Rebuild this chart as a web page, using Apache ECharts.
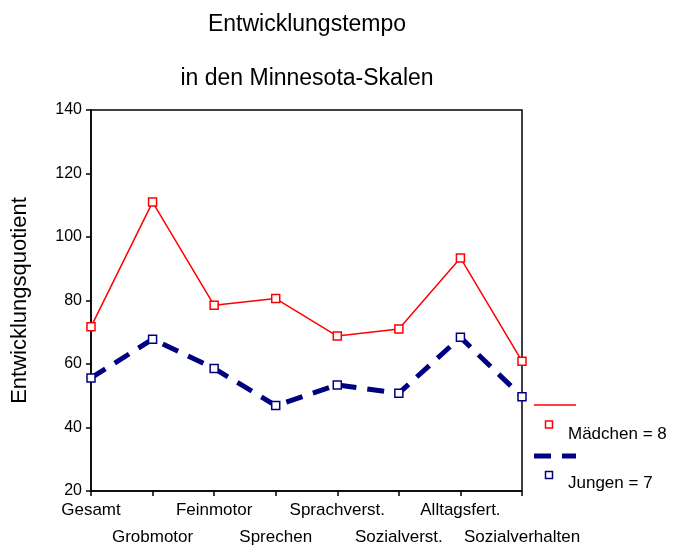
<!DOCTYPE html>
<html>
<head>
<meta charset="utf-8">
<script src="https://cdn.jsdelivr.net/npm/echarts@6/dist/echarts.min.js"></script>
<style>
  html, body { margin: 0; padding: 0; background: #fff; }
  #main { width: 675px; height: 547px; }
</style>
</head>
<body>
<div id="main"></div>
<script>
// Kategorien (Minnesota-Skalen)
var categories = ['Gesamt', 'Grobmotor', 'Feinmotor', 'Sprechen', 'Sprachverst.', 'Sozialverst.', 'Alltagsfert.', 'Sozialverhalten'];
// Entwicklungsquotient je Gruppe
var maedchen = [71.7, 111.0, 78.5, 80.6, 68.8, 71.0, 93.4, 60.9];
var jungen = [55.6, 67.8, 58.6, 46.9, 53.4, 50.8, 68.4, 49.7];
var yTicks = [20, 40, 60, 80, 100, 120, 140];

var font = '"Liberation Sans", Arial, sans-serif';
var chart = echarts.init(document.getElementById('main'), null, { renderer: 'canvas' });

var option = {
  backgroundColor: '#fff',
  animation: false,
  title: [
    { text: 'Entwicklungstempo', left: 307, top: 13, padding: 0, textAlign: 'center',
      textStyle: { fontFamily: font, fontSize: 23, fontWeight: 'normal', color: '#000' } },
    { text: 'in den Minnesota-Skalen', left: 307, top: 67, padding: 0, textAlign: 'center',
      textStyle: { fontFamily: font, fontSize: 23, fontWeight: 'normal', color: '#000' } }
  ],
  grid: {
    left: 91, right: 153, top: 110, bottom: 56,
    outerBoundsMode: 'none',
    containLabel: false,
    show: true, borderColor: '#000', borderWidth: 1.5, backgroundColor: 'transparent'
  },
  xAxis: {
    type: 'category',
    data: categories,
    boundaryGap: false,
    axisLine: { lineStyle: { color: '#000', width: 1.5 } },
    axisTick: { show: true, length: 5, lineStyle: { color: '#000', width: 1.5 } },
    axisLabel: {
      interval: 0, color: '#000', fontFamily: font, fontSize: 17, margin: 6, lineHeight: 27,
      hideOverlap: false,
      formatter: function (v, i) { return i % 2 ? '\n' + v : v; }
    },
    splitLine: { show: false }
  },
  yAxis: {
    type: 'value',
    min: yTicks[0], max: yTicks[yTicks.length - 1], interval: 20,
    name: 'Entwicklungsquotient',
    nameLocation: 'middle',
    nameGap: 60,
    nameTextStyle: { fontFamily: font, fontSize: 22, color: '#000' },
    axisLine: { show: true, lineStyle: { color: '#000', width: 1.5 } },
    axisTick: { show: true, length: 5, lineStyle: { color: '#000', width: 1.5 } },
    axisLabel: { color: '#000', fontFamily: font, fontSize: 16, margin: 9 },
    splitLine: { show: false }
  },
  series: [
    {
      name: 'Mädchen = 8', type: 'line', data: maedchen,
      symbol: 'rect', symbolSize: 8,
      lineStyle: { color: '#ff0000', width: 1.5 },
      itemStyle: { color: '#fff', borderColor: '#ff0000', borderWidth: 1.5 },
      z: 3
    },
    {
      name: 'Jungen = 7', type: 'line', data: jungen,
      symbol: 'rect', symbolSize: 8,
      lineStyle: { color: '#000080', width: 5, type: [17, 11] },
      itemStyle: { color: '#fff', borderColor: '#000080', borderWidth: 1.5 },
      z: 2
    }
  ],
  graphic: [
    { type: 'line', shape: { x1: 534, y1: 405, x2: 576, y2: 405 }, style: { stroke: '#ff0000', lineWidth: 1.5 } },
    { type: 'rect', shape: { x: 545.5, y: 421, width: 7, height: 7 }, style: { fill: '#fff', stroke: '#ff0000', lineWidth: 1.5 } },
    { type: 'text', left: 568, top: 426, style: { text: 'Mädchen = 8', fill: '#000', font: '17px ' + font } },
    { type: 'line', shape: { x1: 534, y1: 456, x2: 576, y2: 456 }, style: { stroke: '#000080', lineWidth: 5, lineDash: [17, 11] } },
    { type: 'rect', shape: { x: 545.5, y: 471.5, width: 7, height: 7 }, style: { fill: '#fff', stroke: '#000080', lineWidth: 1.5 } },
    { type: 'text', left: 568, top: 475, style: { text: 'Jungen = 7', fill: '#000', font: '17px ' + font } }
  ]
};
chart.setOption(option);
</script>
</body>
</html>
